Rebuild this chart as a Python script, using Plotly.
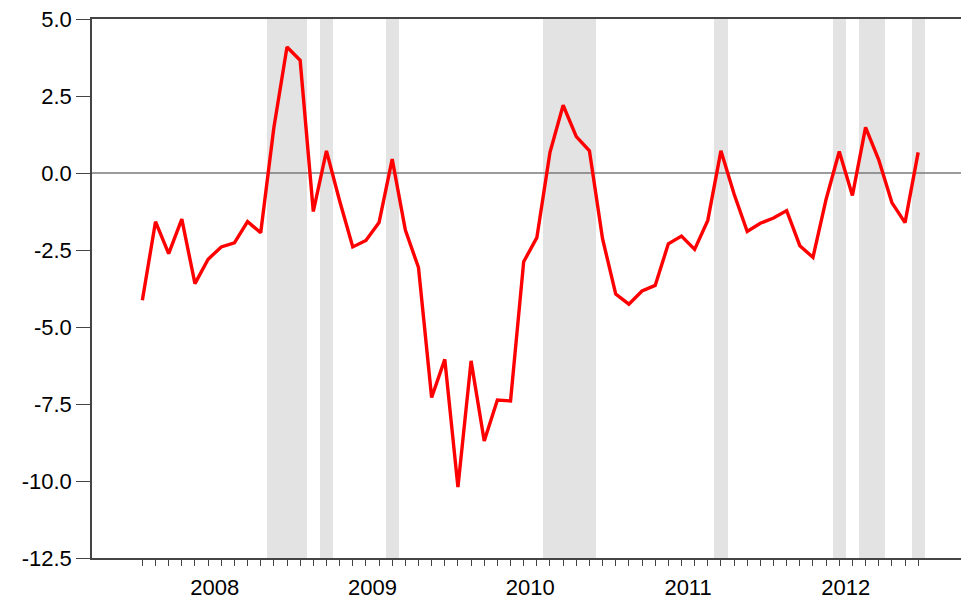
import plotly.graph_objects as go

# monthly observations, Jan 2008 .. Dec 2012
years = ['2008', '2009', '2010', '2011', '2012']
values = [
    -4.13, -1.58, -2.62, -1.50, -3.59, -2.80, -2.40, -2.27, -1.58, -1.94, 1.47, 4.09,
    3.66, -1.25, 0.72, -0.90, -2.40, -2.19, -1.61, 0.45, -1.85, -3.07, -7.29, -6.05,
    -10.20, -6.10, -8.70, -7.37, -7.40, -2.88, -2.10, 0.67, 2.20, 1.18, 0.72, -2.14,
    -3.93, -4.26, -3.83, -3.65, -2.30, -2.05, -2.48, -1.54, 0.72, -0.68, -1.90, -1.63,
    -1.46, -1.22, -2.36, -2.74, -0.85, 0.70, -0.73, 1.48, 0.43, -0.96, -1.61, 0.67,
]
# months (index from Jan 2008) that carry the grey shading
shaded = [10, 11, 12, 14, 19, 31, 32, 33, 34, 44, 53, 55, 56, 59]
y_ticks = [5.0, 2.5, 0.0, -2.5, -5.0, -7.5, -10.0, -12.5]

months = list(range(len(values)))
y_lo, y_hi = -12.5, 5.0
x_range = [-3.83, 62.79]
axis_col = '#444444'
font = dict(family='Liberation Sans, Arial, sans-serif', size=22, color='black')

fig = go.Figure()

fig.add_trace(go.Bar(x=shaded, y=[y_hi - y_lo] * len(shaded), base=y_lo, width=1,
                     marker=dict(color='#E3E3E3', line=dict(width=0)),
                     hoverinfo='skip', showlegend=False))
fig.add_trace(go.Scatter(x=x_range, y=[0, 0], mode='lines',
                         line=dict(color='#7a7a7a', width=1.3),
                         hoverinfo='skip', showlegend=False))
fig.add_trace(go.Scatter(x=months, y=values, mode='lines',
                         line=dict(color='#FF0000', width=3.4),
                         showlegend=False))

# the page body adds ~7px offset, margins compensate for it
fig.update_layout(
    width=969, height=608,
    margin=dict(l=84, r=9, t=11, b=58),
    plot_bgcolor='white', paper_bgcolor='white',
    font=font, bargap=0,
    xaxis=dict(range=x_range, showgrid=False, zeroline=False, automargin=False,
               showline=True, linecolor=axis_col, linewidth=1.5, mirror=True,
               tickmode='array', tickvals=[5.5 + 12 * k for k in range(len(years))],
               ticktext=years, ticks='outside', ticklen=9,
               tickcolor='rgba(0,0,0,0)', ticklabeloverflow='allow',
               minor=dict(tickmode='array', tickvals=months, ticks='outside',
                          ticklen=6, tickcolor=axis_col, tickwidth=1.3)),
    xaxis2=dict(overlaying='x', matches='x', anchor='y', side='bottom',
                range=x_range, showgrid=False, zeroline=False, showline=False,
                automargin=False,
                tickmode='array', tickvals=[12 * k for k in range(len(years))],
                showticklabels=False, ticks='outside', ticklen=12,
                tickcolor=axis_col, tickwidth=1.3),
    yaxis=dict(range=[y_lo, y_hi], showgrid=False, zeroline=False, automargin=False,
               showline=True, linecolor=axis_col, linewidth=1.5, mirror=True,
               tickmode='array', tickvals=y_ticks,
               ticktext=['%.1f' % v for v in y_ticks], ticklabeloverflow='allow',
               ticks='outside', ticklen=14, tickcolor=axis_col, tickwidth=1.3),
)

fig.write_html('out.html')
